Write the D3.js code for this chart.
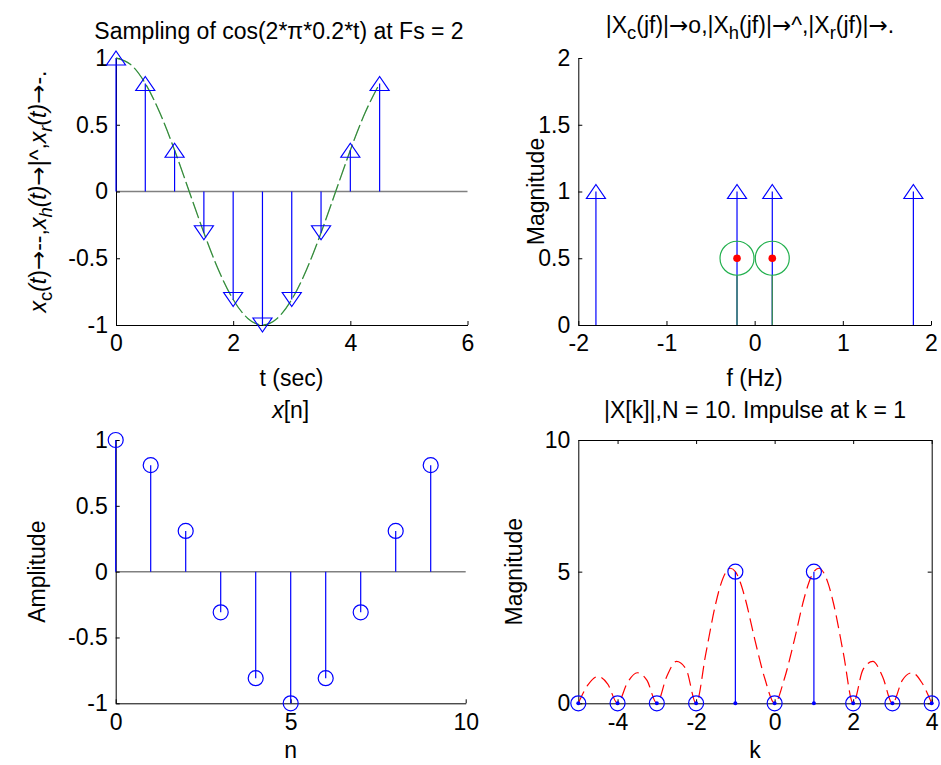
<!DOCTYPE html>
<html><head><meta charset="utf-8">
<script src="https://cdnjs.cloudflare.com/ajax/libs/d3/7.8.5/d3.min.js"></script>
<style>
body{margin:0;background:#fff}
svg text{font-family:"Liberation Sans",Arial,Helvetica,sans-serif;fill:#000}
</style>
</head><body>
<svg id="c" width="941" height="765"></svg>
<script>
// ---------- data ----------
// panel 1: sampled cosine
const tSamples = [0,0.5,1,1.5,2,2.5,3,3.5,4,4.5];
const xSamples = [1,0.809,0.309,-0.309,-0.809,-1,-0.809,-0.309,0.309,0.809];
const tCurve = [0,0.25,0.5,0.75,1,1.25,1.5,1.75,2,2.25,2.5,2.75,3,3.25,3.5,3.75,4,4.25,4.5];
const xCurve = [1,0.951,0.809,0.588,0.309,0,-0.309,-0.588,-0.809,-0.951,-1,-0.951,-0.809,-0.588,-0.309,0,0.309,0.588,0.809];
const p1XTicks = [0,2,4,6];
const p1YTicks = [-1,-0.5,0,0.5,1];
// panel 2: spectra
const fImpulse = [-1.8,-0.2,0.2,1.8];
const magImpulse = [1,1,1,1];
const fCont = [-0.2,0.2];
const magCont = [0.5,0.5];
const p2XTicks = [-2,-1,0,1,2];
const p2YTicks = [0,0.5,1,1.5,2];
// panel 3: x[n]
const nIdx = [0,1,2,3,4,5,6,7,8,9];
const xn = [1,0.809,0.309,-0.309,-0.809,-1,-0.809,-0.309,0.309,0.809];
const p3XTicks = [0,5,10];
const p3YTicks = [-1,-0.5,0,0.5,1];
// panel 4: |X[k]|
const kIdx = [-5,-4,-3,-2,-1,0,1,2,3,4];
const Xk = [0,0,0,0,5,0,5,0,0,0];
const kCurve = [-5,-4.75,-4.5,-4.25,-4,-3.75,-3.5,-3.25,-3,-2.75,-2.5,-2.25,-2,-1.75,-1.5,-1.375,-1.25,-1.125,-1,-0.875,-0.75,-0.5,-0.25,0,0.25,0.5,0.75,0.875,1,1.125,1.25,1.375,1.5,1.75,2,2.25,2.5,2.75,3,3.25,3.5,3.75,4];
const XkCurve = [0,0.71,1.02,0.73,0,0.78,1.16,0.87,0,1.01,1.59,1.28,0,1.91,3.79,4.50,4.96,5.13,5,4.60,3.98,2.39,0.94,0,0.94,2.39,3.98,4.60,5,5.13,4.96,4.50,3.79,1.91,0,1.28,1.59,1.01,0,0.87,1.16,0.78,0];
const p4XTicks = [-4,-2,0,2,4];
const p4YTicks = [0,5,10];

// ---------- setup ----------
const svg = d3.select("#c");
const FS = 23;
const BLUE = "#0000ff", GREEN = "#22b04e", RED = "#ff0000", GRAY = "#808080";
const fmt = d => String(d);

function axes(g, x, y, xt, yt, box){
  const [x0,x1] = x.range(), [y0,y1] = y.range();
  g.append("g").attr("transform",`translate(0,${y0})`)
    .call(d3.axisBottom(x).tickValues(xt).tickFormat(fmt).tickSizeInner(-4).tickSizeOuter(0).tickPadding(10));
  g.append("g").attr("transform",`translate(${x0},0)`)
    .call(d3.axisLeft(y).tickValues(yt).tickFormat(fmt).tickSizeInner(-4).tickSizeOuter(0).tickPadding(8));
  if(box){
    g.append("g").attr("transform",`translate(0,${y1})`)
      .call(d3.axisTop(x).tickValues(xt).tickFormat("").tickSizeInner(-4).tickSizeOuter(0));
    g.append("g").attr("transform",`translate(${x1},0)`)
      .call(d3.axisRight(y).tickValues(yt).tickFormat("").tickSizeInner(-4).tickSizeOuter(0));
  }
  g.selectAll(".domain, .tick line").attr("stroke","#000").attr("stroke-width",1);
  g.selectAll(".tick text").attr("font-size",FS).attr("fill","#000")
    .style("font-family",'"Liberation Sans",Arial,sans-serif');
}
function rich(sel, parts){
  let shift = 0;
  parts.forEach(p=>{
    const [txt, st] = p;
    const ts = sel.append("tspan").text(txt);
    let target = 0;
    if(st && st.includes("sub")){ target = 6; ts.attr("font-size", FS*0.8); }
    if(st && st.includes("it")) ts.attr("font-style","italic");
    if(st && st.includes("arr")) ts.style("font-family",'"DejaVu Sans",sans-serif');
    if(target !== shift){ ts.attr("dy", target-shift); shift = target; }
  });
}
const triUp = "M0,-7L9.5,7L-9.5,7Z", triDown = "M0,7L9.5,-7L-9.5,-7Z";

// ---------- panel 1 ----------
{
  const g = svg.append("g");
  const x = d3.scaleLinear().domain([0,6]).range([116,467.5]);
  const y = d3.scaleLinear().domain([-1,1]).range([325,58]);
  g.append("line").attr("x1",x(0)).attr("x2",x(6)).attr("y1",y(0)).attr("y2",y(0))
    .attr("stroke",GRAY).attr("stroke-width",1.5);
  axes(g,x,y,p1XTicks,p1YTicks,false);
  const line = d3.line().x((d,i)=>x(tCurve[i])).y(d=>y(d)).curve(d3.curveNatural);
  g.append("path").attr("d",line(xCurve)).attr("fill","none").attr("stroke",GREEN)
    .attr("stroke-width",1.3).attr("stroke-dasharray","17,4");
  g.append("path").attr("d",line(xCurve)).attr("fill","none").attr("stroke","#7a2a10")
    .attr("stroke-width",0.8).attr("stroke-opacity",0.45).attr("stroke-dasharray","17,4");
  const st = g.selectAll(".s").data(xSamples).enter();
  st.append("line").attr("x1",(d,i)=>x(tSamples[i])).attr("x2",(d,i)=>x(tSamples[i]))
    .attr("y1",y(0)).attr("y2",d=>y(d)).attr("stroke",BLUE).attr("stroke-width",1.2);
  st.append("path").attr("d",d=>d>=0?triUp:triDown)
    .attr("transform",(d,i)=>`translate(${x(tSamples[i])},${y(d)})`)
    .attr("fill","none").attr("stroke",BLUE).attr("stroke-width",1.2);
  svg.append("text").attr("x",279).attr("y",39).attr("text-anchor","middle").attr("font-size",FS)
    .text("Sampling of cos(2*π*0.2*t) at Fs = 2");
  svg.append("text").attr("x",291.5).attr("y",386).attr("text-anchor","middle").attr("font-size",FS).text("t (sec)");
  const yl = svg.append("text").attr("transform","translate(46,191.5) rotate(-90)").attr("text-anchor","middle").attr("font-size",FS);
  rich(yl,[["x","it"],["c","sub"],["(","it"],["t","it"],[")"],["→","arr"],["--,"],["x","it"],["h","sub it"],["(t)","it"],["→","arr"],["|^,"],["x","it"],["r","sub it"],["(t)","it"],["→","arr"],["-."]]);
}
// ---------- panel 2 ----------
{
  const g = svg.append("g");
  const x = d3.scaleLinear().domain([-2,2]).range([578.3,931]);
  const y = d3.scaleLinear().domain([0,2]).range([325,58]);
  axes(g,x,y,p2XTicks,p2YTicks,false);
  const R = 17;
  g.selectAll(".bi").data(magImpulse).enter().append("line")
    .attr("x1",(d,i)=>x(fImpulse[i])).attr("x2",(d,i)=>x(fImpulse[i]))
    .attr("y1",y(0)).attr("y2",d=>y(d)).attr("stroke",BLUE).attr("stroke-width",1.2);
  g.selectAll(".bt").data(magImpulse).enter().append("path").attr("d",triUp)
    .attr("transform",(d,i)=>`translate(${x(fImpulse[i])},${y(d)})`)
    .attr("fill","none").attr("stroke",BLUE).attr("stroke-width",1.2);
  g.selectAll(".gs").data(magCont).enter().append("line")
    .attr("x1",(d,i)=>x(fCont[i])).attr("x2",(d,i)=>x(fCont[i]))
    .attr("y1",y(0)).attr("y2",d=>y(d)+R).attr("stroke","#3a8a5a").attr("stroke-width",1.4);
  g.selectAll(".gc").data(magCont).enter().append("circle")
    .attr("cx",(d,i)=>x(fCont[i])).attr("cy",d=>y(d)).attr("r",R)
    .attr("fill","none").attr("stroke",GREEN).attr("stroke-width",1.2);
  g.selectAll(".rd").data(magCont).enter().append("circle")
    .attr("cx",(d,i)=>x(fCont[i])).attr("cy",d=>y(d)).attr("r",3.8).attr("fill",RED);
  const tt = svg.append("text").attr("x",750).attr("y",33).attr("text-anchor","middle").attr("font-size",FS);
  rich(tt,[["|X"],["c","sub"],["(jf)|"],["→","arr"],["o,|X"],["h","sub"],["(jf)|"],["→","arr"],["^,|X"],["r","sub"],["(jf)|"],["→","arr"],["."]]);
  svg.append("text").attr("x",754.6).attr("y",386).attr("text-anchor","middle").attr("font-size",FS).text("f (Hz)");
  svg.append("text").attr("transform","translate(544,191.5) rotate(-90)").attr("text-anchor","middle").attr("font-size",FS).text("Magnitude");
}
// ---------- panel 3 ----------
{
  const g = svg.append("g");
  const x = d3.scaleLinear().domain([0,10]).range([115.7,465.7]);
  const y = d3.scaleLinear().domain([-1,1]).range([703.3,440]);
  g.append("line").attr("x1",x(0)).attr("x2",x(10)).attr("y1",y(0)).attr("y2",y(0))
    .attr("stroke",GRAY).attr("stroke-width",1.5);
  axes(g,x,y,p3XTicks,p3YTicks,false);
  g.selectAll(".s").data(xn).enter().append("line")
    .attr("x1",(d,i)=>x(nIdx[i])).attr("x2",(d,i)=>x(nIdx[i]))
    .attr("y1",y(0)).attr("y2",d=>y(d)).attr("stroke",BLUE).attr("stroke-width",1.2);
  g.selectAll(".c").data(xn).enter().append("circle")
    .attr("cx",(d,i)=>x(nIdx[i])).attr("cy",d=>y(d)).attr("r",7.5)
    .attr("fill","none").attr("stroke",BLUE).attr("stroke-width",1.2);
  const tt = svg.append("text").attr("x",290.7).attr("y",418).attr("text-anchor","middle").attr("font-size",FS);
  rich(tt,[["x","it"],["[n]"]]);
  svg.append("text").attr("x",290.7).attr("y",758).attr("text-anchor","middle").attr("font-size",FS).text("n");
  svg.append("text").attr("transform","translate(45,571.7) rotate(-90)").attr("text-anchor","middle").attr("font-size",FS).text("Amplitude");
}
// ---------- panel 4 ----------
{
  const g = svg.append("g");
  const x = d3.scaleLinear().domain([-5,4]).range([578.3,931.7]);
  const y = d3.scaleLinear().domain([0,10]).range([703.3,440]);
  axes(g,x,y,p4XTicks,p4YTicks,true);
  const line = d3.line().x((d,i)=>x(kCurve[i])).y(d=>y(d)).curve(d3.curveMonotoneX);
  g.append("path").attr("d",line(XkCurve)).attr("fill","none").attr("stroke",RED)
    .attr("stroke-width",1.2).attr("stroke-dasharray","13,6");
  g.selectAll(".s").data(Xk).enter().append("line")
    .attr("x1",(d,i)=>x(kIdx[i])).attr("x2",(d,i)=>x(kIdx[i]))
    .attr("y1",y(0)).attr("y2",d=>y(d)).attr("stroke",BLUE).attr("stroke-width",1.2);
  g.selectAll(".c").data(Xk).enter().append("circle")
    .attr("cx",(d,i)=>x(kIdx[i])).attr("cy",d=>y(d)).attr("r",7.5)
    .attr("fill","none").attr("stroke",BLUE).attr("stroke-width",1.2);
  g.selectAll(".dt").data(kIdx).enter().append("circle")
    .attr("cx",d=>x(d)).attr("cy",y(0)).attr("r",2).attr("fill",BLUE);
  svg.append("text").attr("x",755).attr("y",418).attr("text-anchor","middle").attr("font-size",FS).text("|X[k]|,N = 10. Impulse at k = 1");
  svg.append("text").attr("x",755).attr("y",758).attr("text-anchor","middle").attr("font-size",FS).text("k");
  svg.append("text").attr("transform","translate(522,571.7) rotate(-90)").attr("text-anchor","middle").attr("font-size",FS).text("Magnitude");
}
</script>
</body></html>
